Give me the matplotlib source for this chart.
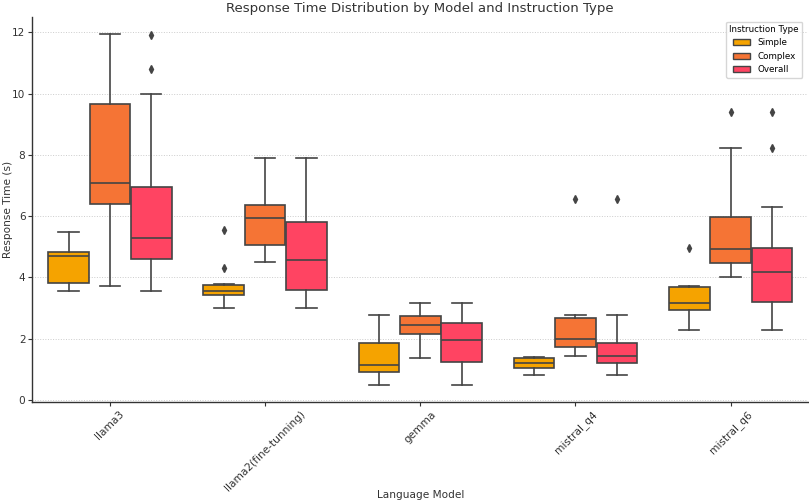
import matplotlib.pyplot as plt
from matplotlib.patches import Patch

# Models and instruction types
models = ["llama3", "llama2(fine-tunning)", "gemma", "mistral_q4", "mistral_q6"]
types = ["Simple", "Complex", "Overall"]
colors = ["#F5A300", "#F57435", "#FF4462"]

# Box statistics, one list per type (one value per model)
simple_whislo = [3.56, 3.01, 0.49, 0.82, 2.29]
simple_q1 = [3.82, 3.43, 0.90, 1.03, 2.94]
simple_med = [4.69, 3.55, 1.12, 1.19, 3.16]
simple_q3 = [4.82, 3.76, 1.84, 1.36, 3.68]
simple_whishi = [5.49, 3.79, 2.77, 1.41, 3.70]
simple_fliers = [[], [5.56, 4.31], [], [], [4.95]]

complex_whislo = [3.73, 4.49, 1.38, 1.44, 4.02]
complex_q1 = [6.41, 5.05, 2.14, 1.72, 4.48]
complex_med = [7.07, 5.93, 2.44, 1.97, 4.92]
complex_q3 = [9.67, 6.37, 2.74, 2.67, 5.98]
complex_whishi = [11.94, 7.89, 3.16, 2.77, 8.24]
complex_fliers = [[], [], [], [6.57], [9.39]]

overall_whislo = [3.56, 3.01, 0.49, 0.82, 2.29]
overall_q1 = [4.59, 3.60, 1.22, 1.20, 3.18]
overall_med = [5.28, 4.58, 1.96, 1.44, 4.16]
overall_q3 = [6.94, 5.81, 2.50, 1.87, 4.96]
overall_whishi = [9.98, 7.89, 3.16, 2.77, 6.30]
overall_fliers = [[11.93, 10.79], [], [], [6.57], [9.39, 8.23]]

stats_by_type = [
    (simple_whislo, simple_q1, simple_med, simple_q3, simple_whishi, simple_fliers),
    (complex_whislo, complex_q1, complex_med, complex_q3, complex_whishi, complex_fliers),
    (overall_whislo, overall_q1, overall_med, overall_q3, overall_whishi, overall_fliers),
]

plt.rcParams["font.size"] = 7.6

fig, ax = plt.subplots(figsize=(8.09, 5.04), dpi=100)

line_col = "#444444"
width = 0.8 / 3
for j, (lo, q1, med, q3, hi, fl) in enumerate(stats_by_type):
    stats = []
    for i in range(len(models)):
        stats.append({"whislo": lo[i], "q1": q1[i], "med": med[i],
                      "q3": q3[i], "whishi": hi[i], "fliers": fl[i]})
    positions = [i + (j - 1) * width for i in range(len(models))]
    b = ax.bxp(stats, positions=positions, widths=width * 0.98, patch_artist=True,
               showfliers=True, manage_ticks=False,
               boxprops=dict(edgecolor=line_col, linewidth=1.2),
               medianprops=dict(color=line_col, linewidth=1.2),
               whiskerprops=dict(color=line_col, linewidth=1.2),
               capprops=dict(color=line_col, linewidth=1.2),
               flierprops=dict(marker="d", markerfacecolor=line_col,
                               markeredgecolor=line_col, markersize=4))
    for box in b["boxes"]:
        box.set_facecolor(colors[j])

ax.set_xticks(range(len(models)))
ax.set_xticklabels(models, rotation=45)
ax.set_xlim(-0.5, len(models) - 0.5)
ax.set_ylim(-0.08, 12.5)
ax.set_yticks([0, 2, 4, 6, 8, 10, 12])

ax.yaxis.grid(True, linestyle=":", color="#cccccc", linewidth=0.7)
ax.set_axisbelow(True)
ax.spines["top"].set_visible(False)
ax.spines["right"].set_visible(False)
for s in ["left", "bottom"]:
    ax.spines[s].set_color("#333333")
    ax.spines[s].set_linewidth(1.0)

ax.set_title("Response Time Distribution by Model and Instruction Type", fontsize=9.5,
             color="#333333", pad=4)
ax.set_xlabel("Language Model", color="#333333")
ax.set_ylabel("Response Time (s)", color="#333333")
ax.xaxis.set_label_coords(0.5, -0.228)
ax.yaxis.set_label_coords(-0.025, 0.5)
ax.tick_params(colors="#333333", length=3, pad=2)

handles = [Patch(facecolor=c, edgecolor=line_col, label=t) for c, t in zip(colors, types)]
ax.legend(handles=handles, title="Instruction Type", loc="upper right",
          fontsize=6.3, title_fontsize=6.3, bbox_to_anchor=(0.998, 1.0))

plt.subplots_adjust(left=0.04, right=0.999, top=0.966, bottom=0.202)
plt.savefig("out.png")
